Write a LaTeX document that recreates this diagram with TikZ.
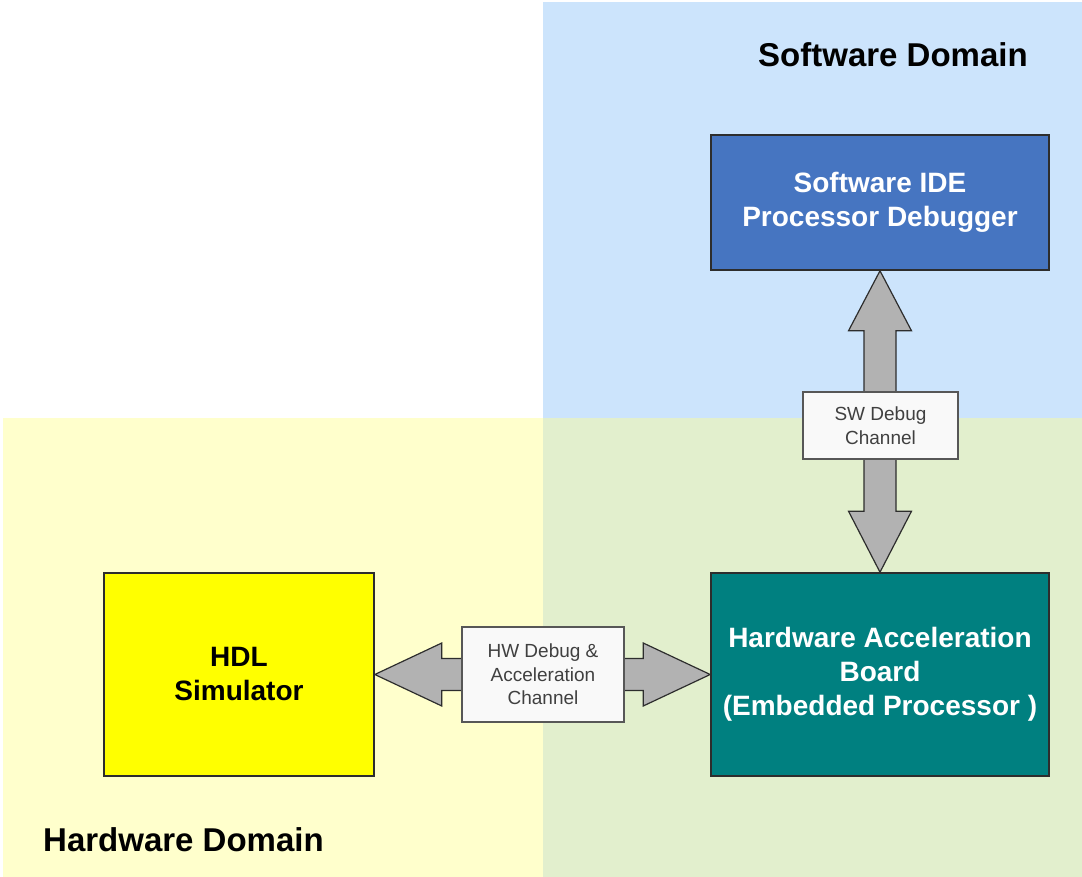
\documentclass[tikz,border=0pt]{standalone}
\usepackage{fontspec}
\setmainfont{Liberation Sans}
\usetikzlibrary{calc}

\definecolor{swzone}{RGB}{204,228,252}
\definecolor{hwzone}{RGB}{255,255,204}
\definecolor{cozone}{RGB}{226,239,205}
\definecolor{ideblue}{RGB}{70,117,193}
\definecolor{boardteal}{RGB}{0,128,128}
\definecolor{simyellow}{RGB}{255,255,0}
\definecolor{arrowgray}{RGB}{178,178,178}
\definecolor{edgedark}{RGB}{45,45,45}
\definecolor{chanfill}{RGB}{249,249,249}
\definecolor{chantext}{RGB}{64,64,64}

\begin{document}
\begin{tikzpicture}[x=1pt,y=-1pt,
  block/.style={draw=edgedark, line width=1.6pt, inner sep=0pt, align=center,
    font=\fontsize{28}{34}\selectfont\bfseries},
  chanbox/.style={draw=edgedark!80, line width=1.2pt, fill=chanfill, inner sep=0pt,
    align=center, text=chantext, font=\fontsize{19}{23.5}\selectfont},
  bigarrow/.style={draw=edgedark, line width=1.2pt, fill=arrowgray, line join=miter},
  title/.style={inner sep=0pt, font=\fontsize{33}{40}\selectfont\bfseries}]

\useasboundingbox (0,0) rectangle (1082,877);
% domain backgrounds
\fill[white] (0,0) rectangle (1082,877);
\fill[swzone] (543,2) rectangle (1082,418);
\fill[hwzone] (3,418) rectangle (543,877);
\fill[cozone] (543,418) rectangle (1082,877);

% domain titles
\node[title] (swtitle) at (893,55) {Software Domain};
\node[title, anchor=west] (hwtitle) at (43,840) {Hardware Domain};

% main blocks
\node[block, fill=ideblue, text=white, minimum width=338, minimum height=135]
  (ide) at (880,202.5) {Software IDE\\Processor Debugger};
\node[block, fill=boardteal, text=white, minimum width=338, minimum height=203]
  (board) at (880,674.5) {Hardware Acceleration\\Board\\(Embedded Processor )};
\node[block, fill=simyellow, text=black, minimum width=270, minimum height=203]
  (hdl) at (239,674.5) {HDL\\Simulator};

% SW debug channel: vertical double arrow
\draw[bigarrow] (ide.south) -- ++(31.5,60) -- ++(-15.5,0)
  -- ($(board.north)+(16,-61)$) -- ++(15.5,0) -- (board.north)
  -- ++(-31.5,-61) -- ++(15.5,0) -- ($(ide.south)+(-16,60)$)
  -- ++(-15.5,0) -- cycle;

% HW debug channel: horizontal double arrow
\draw[bigarrow] (hdl.east) -- ++(67,-31.5) -- ++(0,15.5)
  -- ($(board.west)+(-67,-16)$) -- ++(0,-15.5) -- (board.west)
  -- ++(-67,31.5) -- ++(0,-15.5) -- ($(hdl.east)+(67,16)$)
  -- ++(0,15.5) -- cycle;

% channel labels
\node[chanbox, minimum width=155, minimum height=67] (swch) at (880.5,425.5)
  {SW Debug\\Channel};
\node[chanbox, minimum width=162, minimum height=95] (hwch) at (543,674.5)
  {HW Debug \&\\Acceleration\\Channel};
\end{tikzpicture}
\end{document}
